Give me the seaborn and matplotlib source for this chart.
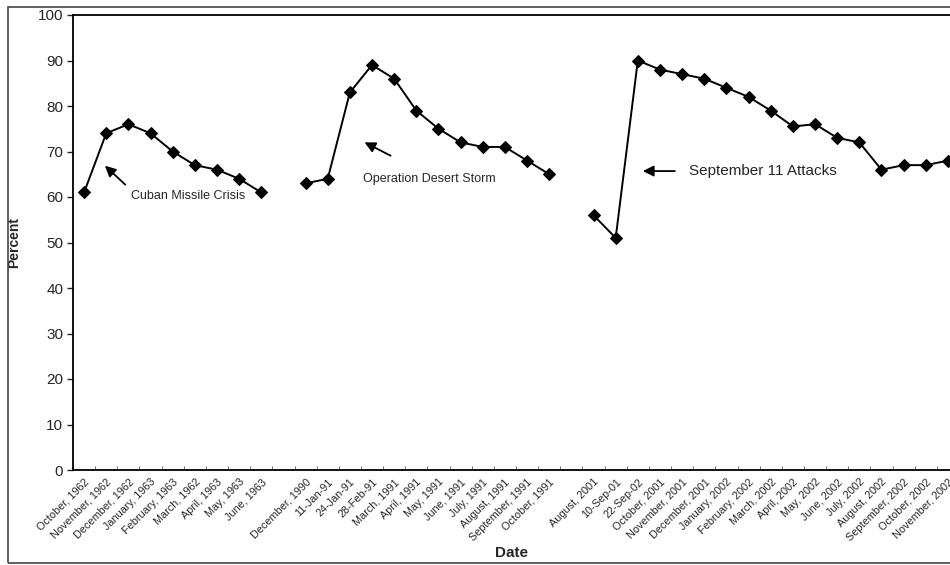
import matplotlib
matplotlib.use("Agg")
import matplotlib.pyplot as plt
from matplotlib.patches import Rectangle
import numpy as np
import pandas as pd
import seaborn as sns

# approval ratings around three rally events (gaps between events are blank categories)
cuba_labels = ['October, 1962', 'November, 1962', 'December, 1962', 'January, 1963',
               'February, 1963', 'March, 1962', 'April, 1963', 'May, 1963', 'June, 1963']
cuba_pct = [61, 74, 76, 74, 70, 67, 66, 64, 61]

gulf_labels = ['December, 1990', '11-Jan-91', '24-Jan-91', '28-Feb-91', 'March, 1991',
               'April, 1991', 'May, 1991', 'June, 1991', 'July, 1991', 'August, 1991',
               'September, 1991', 'October, 1991']
gulf_pct = [63, 64, 83, 89, 86, 79, 75, 72, 71, 71, 68, 65]

sept_labels = ['August, 2001', '10-Sep-01', '22-Sep-02', 'October, 2001', 'November, 2001',
               'December, 2001', 'January, 2002', 'February, 2002', 'March, 2002',
               'April, 2002', 'May, 2002', 'June, 2002', 'July, 2002', 'August, 2002',
               'September, 2002', 'October, 2002', 'November, 2002']
sept_pct = [56, 51, 90, 88, 87, 86, 84, 82, 79, 75.5, 76, 73, 72, 66, 67, 67, 68]

# build category axis: one blank slot between events
tick_labels = cuba_labels + [''] + gulf_labels + [''] + sept_labels
rows = []
for event, labs, vals in [('cuba', cuba_labels, cuba_pct),
                          ('gulf', gulf_labels, gulf_pct),
                          ('sept', sept_labels, sept_pct)]:
    start = tick_labels.index(labs[0])
    for i, v in enumerate(vals):
        rows.append({'event': event, 'pos': start + i, 'pct': v})
df = pd.DataFrame(rows)

sns.set_style('white')
plt.rcParams['font.family'] = ['Liberation Sans', 'DejaVu Sans']

fig = plt.figure(figsize=(9.5, 5.65), dpi=100)
ax = fig.add_axes([73 / 950, 95 / 565, 886 / 950, 455 / 565])

sns.lineplot(data=df, x='pos', y='pct', units='event', estimator=None,
             color='black', marker='D', markersize=6, markeredgecolor='black',
             linewidth=1.4, ax=ax, legend=False)

n = len(tick_labels)
ax.set_xlim(-0.5, n - 0.5)
ax.set_ylim(0, 100)
ax.set_yticks(np.arange(0, 101, 10))
ax.tick_params(axis='y', labelsize=11, length=4, width=1, direction='out', left=True, pad=3)

ax.set_xticks(np.arange(n))
ax.set_xticklabels(tick_labels, rotation=45, ha='right', rotation_mode='anchor', fontsize=7.8)
ax.tick_params(axis='x', which='major', length=0, pad=5)
ax.set_xticks(np.arange(n + 1) - 0.5, minor=True)
ax.tick_params(axis='x', which='minor', length=3, direction='in', bottom=True, color='#555555')

for s in ax.spines.values():
    s.set_color('black')
    s.set_linewidth(1.3)

# label coords: xlabel anchored at its top, ylabel at its right edge
ax.set_xlabel('Date', fontsize=11, fontweight='bold')
ax.xaxis.set_label_coords((512 - 73) / 886, -(546 - 470) / 455)
ax.set_ylabel('Percent', fontsize=10, fontweight='bold')
ax.yaxis.set_label_coords(-(73 - 21) / 886, 0.5)

# event annotations
ax.annotate('', xy=(0.85, 67.3), xytext=(1.95, 62.3),
            arrowprops=dict(arrowstyle='-|>', color='black', lw=1.3, mutation_scale=16))
ax.text(2.1, 60.2, 'Cuban Missile Crisis', fontsize=9, va='center', ha='left')

ax.annotate('', xy=(12.55, 72.3), xytext=(13.95, 68.8),
            arrowprops=dict(arrowstyle='-|>', color='black', lw=1.3, mutation_scale=16))
ax.text(12.6, 63.9, 'Operation Desert Storm', fontsize=9, va='center', ha='left')

ax.annotate('', xy=(25.1, 65.7), xytext=(26.8, 65.7),
            arrowprops=dict(arrowstyle='-|>', color='black', lw=1.3, mutation_scale=16))
ax.text(27.3, 65.7, 'September 11 Attacks', fontsize=11, va='center', ha='left')

# outer frame around the chart
fig.patches.append(Rectangle((8 / 950, 2 / 565), 1.0, 556 / 565, transform=fig.transFigure,
                             fill=False, edgecolor='#444444', linewidth=1.2))

fig.savefig('out.png', dpi=100)
